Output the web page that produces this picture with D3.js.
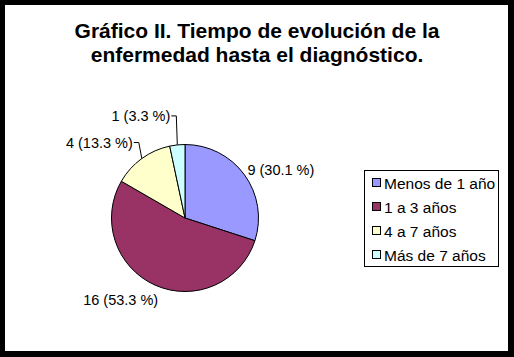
<!DOCTYPE html>
<html>
<head>
<meta charset="utf-8">
<script src="https://cdn.jsdelivr.net/npm/d3@7"></script>
<style>
html,body{margin:0;padding:0;background:#fff;}
svg{display:block;}
text{font-family:"Liberation Sans",Arial,sans-serif;fill:#000;}
</style>
</head>
<body>
<svg id="chart" width="514" height="357"></svg>
<script>
// Data
const categories = ["Menos de 1 año", "1 a 3 años", "4 a 7 años", "Más de 7 años"];
const values = [9, 16, 4, 1];
const pctLabels = ["30.1 %", "53.3 %", "13.3 %", "3.3 %"];
const colors = ["#9999FF", "#993366", "#FFFFCC", "#CCFFFF"];
const titleLines = ["Gráfico II. Tiempo de evolución de la", "enfermedad hasta el diagnóstico."];

const W = 514, H = 357;
const svg = d3.select("#chart");

// Frame
svg.append("rect").attr("x", 0).attr("y", 0).attr("width", W).attr("height", H).attr("fill", "#000");
svg.append("rect").attr("x", 5).attr("y", 5).attr("width", 503).attr("height", 346).attr("fill", "#fff");

// Title
svg.append("g").selectAll("text").data(titleLines).join("text")
  .attr("x", 257).attr("y", (d, i) => 38 + i * 24)
  .attr("text-anchor", "middle")
  .style("font-weight", "bold").style("font-size", "21px")
  .text(d => d);

// Pie
const cx = 185, cy = 218, R = 73.5;
const color = d3.scaleOrdinal().domain(categories).range(colors);
const pie = d3.pie().sort(null).value(d => d.v);
const arcs = pie(categories.map((c, i) => ({c, v: values[i], p: pctLabels[i]})));
const arc = d3.arc().innerRadius(0).outerRadius(R);

const g = svg.append("g").attr("transform", `translate(${cx},${cy})`);
g.selectAll("path").data(arcs).join("path")
  .attr("d", arc)
  .attr("fill", d => color(d.data.c))
  .attr("stroke", "#000").attr("stroke-width", 1);

// Labels (layout offsets relative to the slice edge point)
const layout = [
  {dx: 3, dy: 0, anchor: "start", leader: false},
  {dx: 3, dy: 20, anchor: "end", leader: false},
  {lx: -3, ly: -16, tx: -5, anchor: "end", leader: true},
  {lx: -1, ly: -29, tx: -5, anchor: "end", leader: true}
];
arcs.forEach((a, i) => {
  const m = (a.startAngle + a.endAngle) / 2;
  const px = Math.sin(m) * R, py = -Math.cos(m) * R;
  const L = layout[i];
  const txt = `${a.data.v} (${a.data.p})`;
  if (L.leader) {
    const kx = px + L.lx, ky = py + L.ly;
    g.append("polyline")
      .attr("points", `${px},${py} ${kx},${ky} ${kx + L.tx},${ky}`)
      .attr("fill", "none").attr("stroke", "#000").attr("stroke-width", 1);
    g.append("text")
      .attr("x", kx + L.tx - 1).attr("y", ky + 5)
      .attr("text-anchor", L.anchor).style("font-size", "14.5px").text(txt);
  } else {
    g.append("text")
      .attr("x", px + L.dx).attr("y", py + L.dy)
      .attr("text-anchor", L.anchor).style("font-size", "14.5px").text(txt);
  }
});

// Legend
const lg = svg.append("g");
lg.append("rect").attr("x", 364.5).attr("y", 170.5).attr("width", 134).attr("height", 96)
  .attr("fill", "#fff").attr("stroke", "#000").attr("stroke-width", 1);
const rows = lg.selectAll("g.row").data(categories).join("g").attr("class", "row")
  .attr("transform", (d, i) => `translate(0,${183 + i * 24})`);
rows.append("rect").attr("x", 372.5).attr("y", -4.5).attr("width", 8).attr("height", 8)
  .attr("fill", d => color(d)).attr("stroke", "#000").attr("stroke-width", 1);
rows.append("text").attr("x", 384).attr("y", 5.5).style("font-size", "15.5px").text(d => d);
</script>
</body>
</html>
